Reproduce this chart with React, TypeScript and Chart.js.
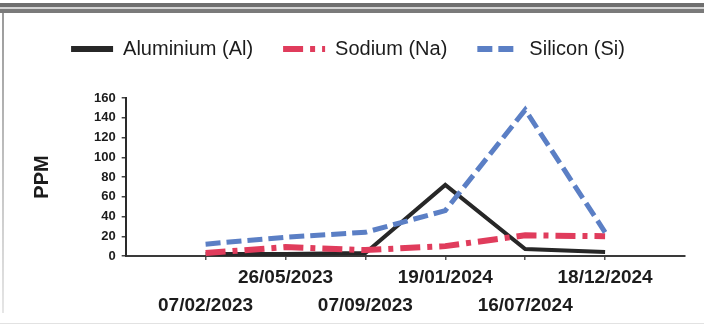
import { useEffect, useRef } from 'react';
import { Chart, registerables } from 'chart.js';

Chart.register(...registerables);

const dates = ['07/02/2023', '26/05/2023', '07/09/2023', '19/01/2024', '16/07/2024', '18/12/2024'];
const aluminium = [2, 2, 3, 72, 7, 4];
const sodium = [3, 9, 6, 10, 21, 20];
const silicon = [12, 19, 24, 46, 148, 24];
const yMin = 0;
const yMax = 160;
const yStep = 20;

const FONT = '"Liberation Sans", Arial, Helvetica, sans-serif';
const TEXT = '#1c1c1c';

export default function App() {
  const ref = useRef<HTMLCanvasElement>(null);

  useEffect(() => {
    if (!ref.current) return;
    const toPts = (arr: number[]) => arr.map((y, i) => ({ x: i + 1, y }));
    const legendSpace = {
      id: 'legendSpace',
      beforeInit(chart: any) {
        const legend = chart.legend;
        if (!legend) return;
        const orig = legend.fit;
        legend.fit = function () {
          orig.call(this);
          this.height += 29;
        };
      },
    };
    const chart = new Chart(ref.current, {
      type: 'line',
      data: {
        datasets: [
          {
            label: 'Aluminium (Al)',
            data: toPts(aluminium),
            borderColor: '#272727',
            backgroundColor: '#272727',
            borderWidth: 4,
            order: 3,
          },
          {
            label: 'Sodium (Na)',
            data: toPts(sodium),
            borderColor: '#e03c5c',
            backgroundColor: '#e03c5c',
            borderWidth: 6,
            borderDash: [20, 7, 5, 7],
            order: 2,
          },
          {
            label: 'Silicon (Si)',
            data: toPts(silicon),
            borderColor: '#5b7fc5',
            backgroundColor: '#5b7fc5',
            borderWidth: 5,
            borderDash: [15, 6],
            order: 1,
          },
        ],
      },
      options: {
        animation: false,
        responsive: false,
        layout: { padding: { left: 11, right: 19, top: 9, bottom: 3 } },
        elements: {
          point: { radius: 0, hoverRadius: 0 },
          line: { tension: 0, fill: false, borderCapStyle: 'butt', borderJoinStyle: 'miter' },
        },
        plugins: {
          tooltip: { enabled: false },
          legend: {
            position: 'top',
            labels: {
              usePointStyle: true,
              pointStyle: 'line',
              pointStyleWidth: 42,
              font: { family: FONT, size: 20 },
              color: TEXT,
              padding: 30,
              sort: (a: any, b: any) => a.datasetIndex - b.datasetIndex,
              generateLabels(c: any) {
                const items = (Chart.defaults.plugins.legend.labels as any).generateLabels(c);
                items.forEach((it: any) => {
                  const ds = c.data.datasets[it.datasetIndex];
                  it.lineWidth = 6;
                  it.lineDash = ds.borderDash || [];
                  it.lineCap = 'butt';
                  it.strokeStyle = ds.borderColor;
                  it.fillStyle = 'rgba(0,0,0,0)';
                });
                return items;
              },
            },
          },
        },
        scales: {
          x: {
            type: 'linear',
            min: 0,
            max: 7,
            afterBuildTicks: (s: any) => {
              s.ticks = dates.map((_, i) => ({ value: i + 1 }));
            },
            ticks: {
              autoSkip: false,
              maxRotation: 0,
              minRotation: 0,
              padding: 4,
              color: TEXT,
              font: { family: FONT, size: 19, weight: 'bold', lineHeight: '28px' },
              callback: (v: any) => {
                const i = Math.round(Number(v)) - 1;
                const l = dates[i] ?? '';
                return i % 2 === 0 ? ['', l] : [l, ''];
              },
            },
            grid: { drawOnChartArea: false, drawTicks: true, tickLength: 4, color: '#555', lineWidth: 1.5 },
            border: { display: true, color: '#3a3a3a', width: 2 },
          },
          y: {
            min: yMin,
            max: yMax,
            ticks: {
              stepSize: yStep,
              padding: 6,
              color: TEXT,
              font: { family: FONT, size: 13, weight: 'bold' },
            },
            grid: { drawOnChartArea: false, drawTicks: true, tickLength: 4, color: '#444', lineWidth: 1.5 },
            border: { display: true, color: '#2a2a2a', width: 2 },
            title: {
              display: true,
              text: 'PPM',
              color: TEXT,
              font: { family: FONT, size: 20, weight: 'bold' },
              padding: { top: 19, bottom: 34 },
            },
          },
        },
      } as any,
      plugins: [legendSpace],
    });
    return () => chart.destroy();
  }, []);

  return (
    <div style={{ position: 'fixed', left: 0, top: 0, width: 704, height: 327, background: '#fff' }}>
      <canvas ref={ref} width={704} height={327} style={{ position: 'absolute', left: 0, top: 0, width: 704, height: 327 }} />
      <div style={{ position: 'absolute', left: 0, top: 3, width: 704, height: 4, background: '#6f6f6f' }} />
      <div style={{ position: 'absolute', left: 0, top: 7, width: 704, height: 2, background: '#d4d4d4' }} />
      <div style={{ position: 'absolute', left: 0, top: 9, width: 704, height: 4, background: '#7a7a7a' }} />
      <div style={{ position: 'absolute', left: 2, top: 13, width: 2, height: 300, background: 'linear-gradient(#9a9a9a, #e6e6e6)' }} />
      <div style={{ position: 'absolute', left: 0, top: 323, width: 704, height: 1, background: '#e2e2e2' }} />
    </div>
  );
}
